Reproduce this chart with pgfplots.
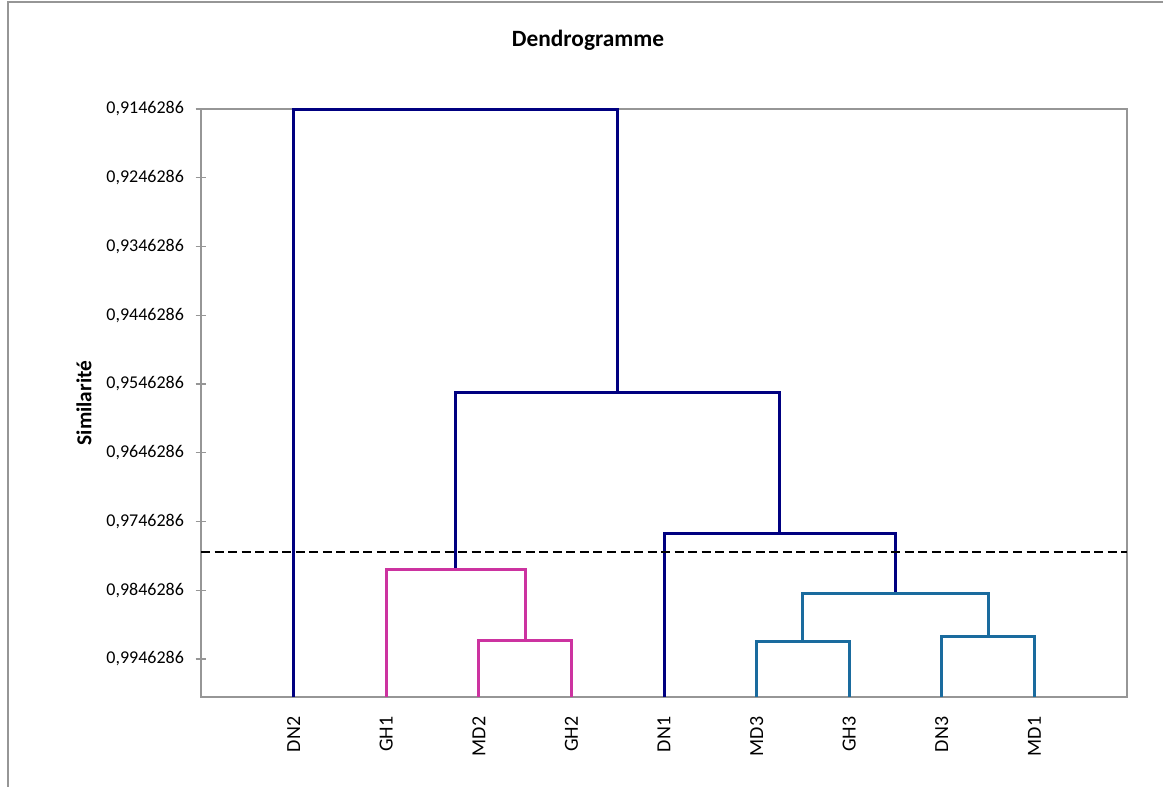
\documentclass[border=0pt]{standalone}
\usepackage{pgfplots}
\pgfplotsset{compat=1.18}
\usepackage{fontspec}
\setmainfont{Carlito}
\definecolor{navy}{HTML}{000080}
\definecolor{mag}{HTML}{CC33A0}
\definecolor{teal2}{HTML}{1A6B9E}
\definecolor{axgray}{HTML}{969696}
\begin{document}
\begin{tikzpicture}
\useasboundingbox (0pt,0pt) rectangle (872.25pt,-590.25pt);
\draw[axgray, line width=1.5pt] (6pt,-590.25pt) -- (6pt,-1.5pt) -- (872.25pt,-1.5pt);
\node[font=\fontsize{17.5}{20}\selectfont\bfseries] at (441pt,-30pt) {Dendrogramme};
\node[font=\fontsize{16}{19}\selectfont\bfseries, rotate=90] at (63pt,-302.25pt) {Similarité};
\begin{axis}[
  at={(150.75pt,-522.75pt)}, anchor=south west,
  scale only axis, width=694.5pt, height=441pt,
  xmin=0, xmax=10, ymin=0.9146286, ymax=1.0001586, y dir=reverse,
  clip=false,
  axis line style={axgray, line width=1.6pt},
  xtick={1,2,3,4,5,6,7,8,9},
  xticklabels={DN2,GH1,MD2,GH2,DN1,MD3,GH3,DN3,MD1},
  x tick style={draw=none},
  xticklabel style={rotate=90, anchor=east, inner sep=0pt, xshift=-10.5pt, font=\fontsize{15}{18}\selectfont},
  ytick={0.9146286,0.9246286,0.9346286,0.9446286,0.9546286,0.9646286,0.9746286,0.9846286,0.9946286},
  yticklabels={{0,9146286},{0,9246286},{0,9346286},{0,9446286},{0,9546286},{0,9646286},{0,9746286},{0,9846286},{0,9946286}},
  ytick pos=left,
  y tick style={axgray, line width=0.8pt},
  tick align=center, major tick length=8.25pt,
  yticklabel style={anchor=east, inner sep=0pt, xshift=-8.5pt, font=\fontsize{13.5}{16}\selectfont},
  every axis plot/.append style={line width=2.25pt, line join=miter},
]
% navy links
\addplot[navy] coordinates {(1,1.0001586) (1,0.9146286) (4.5,0.9146286) (4.5,0.955793)};
\addplot[navy] coordinates {(2.75,0.981683) (2.75,0.955793) (6.25,0.955793) (6.25,0.976447)};
\addplot[navy] coordinates {(5,1.0001586) (5,0.976447) (7.5,0.976447) (7.5,0.985174)};
% magenta cluster
\addplot[mag] coordinates {(2,1.0001586) (2,0.981683) (3.5,0.981683) (3.5,0.992010)};
\addplot[mag] coordinates {(3,1.0001586) (3,0.992010) (4,0.992010) (4,1.0001586)};
% teal cluster
\addplot[teal2] coordinates {(6,1.0001586) (6,0.992156) (7,0.992156) (7,1.0001586)};
\addplot[teal2] coordinates {(8,1.0001586) (8,0.991429) (9,0.991429) (9,1.0001586)};
\addplot[teal2] coordinates {(6.5,0.992156) (6.5,0.985174) (8.5,0.985174) (8.5,0.991429)};
% cut line
\addplot[black, line width=1.5pt, dash pattern=on 6.75pt off 3.4pt] coordinates {(0,0.979065) (10,0.979065)};
\end{axis}
\end{tikzpicture}
\end{document}
